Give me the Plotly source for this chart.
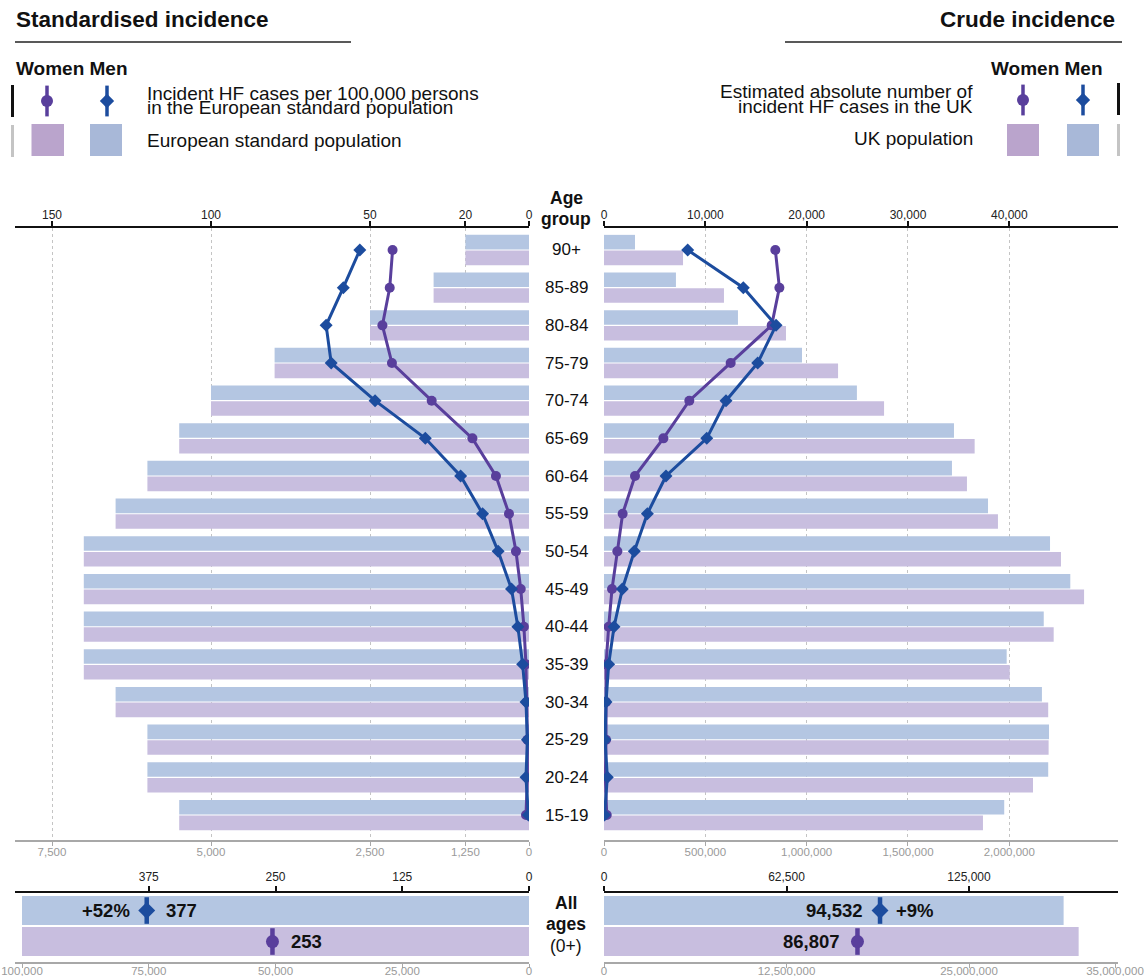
import plotly.graph_objects as go

W, H = 1145, 976

# ---------------- data ----------------
age_groups = ['15-19', '20-24', '25-29', '30-34', '35-39', '40-44', '45-49', '50-54',
              '55-59', '60-64', '65-69', '70-74', '75-79', '80-84', '85-89', '90+']

# European standard population (2013) per age group
esp_pop = [5500, 6000, 6000, 6500, 7000, 7000, 7000, 7000,
           6500, 6000, 5500, 5000, 4000, 2500, 1500, 1000]

# incident HF cases per 100,000 persons of the European standard population
std_men = [0.2, 0.95, 0.5, 0.95, 2.0, 3.5, 5.5, 9.7,
           14.6, 21.5, 32.6, 48.4, 62.2, 63.8, 58.4, 53.2]
std_women = [0.95, 0.5, 0.5, 0.7, 0.95, 1.6, 2.6, 4.1,
             6.3, 10.4, 17.8, 30.6, 43.1, 46.1, 43.8, 42.9]

# UK population per age group
uk_men = [1975000, 2192000, 2196000, 2161000, 1987000, 2170000, 2301000, 2201000,
          1895000, 1717000, 1727000, 1248000, 977000, 661000, 355000, 153000]
uk_women = [1870000, 2117000, 2194000, 2192000, 2002000, 2219000, 2369000, 2255000,
            1944000, 1791000, 1829000, 1382000, 1155000, 898000, 592000, 390000]

# estimated absolute number of incident HF cases in the UK
crude_men = [50, 330, 100, 200, 460, 990, 1810, 2990,
             4280, 6120, 10140, 12040, 15170, 16980, 13750, 8260]
crude_women = [270, 130, 200, 200, 200, 460, 790, 1320,
               1840, 3060, 5860, 8420, 12500, 16550, 17310, 16910]

# all ages (0+)
sex_rows = ['Women', 'Men']
esp_total = [100000, 100000]
std_total = [253, 377]
uk_total = [32510000, 31480000]
crude_total = [86807, 94532]
std_change = '+52%'
crude_change = '+9%'

# ---------------- styling ----------------
FONT = 'Liberation Sans, Arial, sans-serif'
BAR_MEN = '#b4c6e2'
BAR_WOMEN = '#c8bedf'
LEG_MEN = '#a8b8d8'
LEG_WOMEN = '#baa4cc'
LINE_MEN = '#1c4c9e'
LINE_WOMEN = '#593f9c'
GRAY = '#a8a8a8'


def px(x):
    return x / W


def py(y):
    return 1 - y / H


def fmt(v):
    return f'{v:,.0f}'


fig = go.Figure()

# ---- main panel bars ----
fig.add_bar(y=age_groups, x=esp_pop, orientation='h', xaxis='x', yaxis='y',
            marker=dict(color=BAR_WOMEN, line=dict(width=0)), offsetgroup='w', showlegend=False)
fig.add_bar(y=age_groups, x=esp_pop, orientation='h', xaxis='x', yaxis='y',
            marker=dict(color=BAR_MEN, line=dict(width=0)), offsetgroup='m', showlegend=False)
fig.add_bar(y=age_groups, x=uk_women, orientation='h', xaxis='x3', yaxis='y',
            marker=dict(color=BAR_WOMEN, line=dict(width=0)), offsetgroup='w', showlegend=False)
fig.add_bar(y=age_groups, x=uk_men, orientation='h', xaxis='x3', yaxis='y',
            marker=dict(color=BAR_MEN, line=dict(width=0)), offsetgroup='m', showlegend=False)

# ---- main panel incidence lines ----
fig.add_scatter(y=age_groups, x=std_women, xaxis='x2', yaxis='y', mode='lines+markers',
                line=dict(color=LINE_WOMEN, width=3), marker=dict(symbol='circle', size=10),
                showlegend=False)
fig.add_scatter(y=age_groups, x=std_men, xaxis='x2', yaxis='y', mode='lines+markers',
                line=dict(color=LINE_MEN, width=3), marker=dict(symbol='diamond', size=10),
                showlegend=False)
fig.add_scatter(y=age_groups, x=crude_women, xaxis='x4', yaxis='y', mode='lines+markers',
                line=dict(color=LINE_WOMEN, width=3), marker=dict(symbol='circle', size=10),
                showlegend=False)
fig.add_scatter(y=age_groups, x=crude_men, xaxis='x4', yaxis='y', mode='lines+markers',
                line=dict(color=LINE_MEN, width=3), marker=dict(symbol='diamond', size=10),
                showlegend=False)

# ---- all ages bars ----
for xa, vals in (('x5', esp_total), ('x7', uk_total)):
    for i, sex in enumerate(sex_rows):
        fig.add_bar(y=[sex], x=[vals[i]], orientation='h', xaxis=xa, yaxis='y2',
                    width=0.93, offsetgroup='all',
                    marker=dict(color=BAR_MEN if sex == 'Men' else BAR_WOMEN, line=dict(width=0)),
                    showlegend=False)

# ---- all ages markers ----
for xa, vals in (('x6', std_total), ('x8', crude_total)):
    for i, sex in enumerate(sex_rows):
        col = LINE_MEN if sex == 'Men' else LINE_WOMEN
        fig.add_scatter(y=[sex], x=[vals[i]], xaxis=xa, yaxis='y2', mode='markers',
                        marker=dict(symbol='line-ns', size=19, line=dict(color=col, width=4.5)),
                        showlegend=False)
        fig.add_scatter(y=[sex], x=[vals[i]], xaxis=xa, yaxis='y2', mode='markers',
                        marker=dict(symbol='diamond' if sex == 'Men' else 'circle',
                                    size=13, color=col),
                        showlegend=False)

# ---- legend glyphs (pixel helper axes) ----
leg_pts = [(47, 101, 'circle', LINE_WOMEN), (107, 101, 'diamond', LINE_MEN),
           (1023, 100, 'circle', LINE_WOMEN), (1083, 100, 'diamond', LINE_MEN)]
for x0, y0, sym, col in leg_pts:
    fig.add_scatter(x=[x0], y=[y0], xaxis='x9', yaxis='y3', mode='markers',
                    marker=dict(symbol='line-ns', size=22, line=dict(color=col, width=3.5)),
                    showlegend=False, hoverinfo='skip')
    fig.add_scatter(x=[x0], y=[y0], xaxis='x9', yaxis='y3', mode='markers',
                    marker=dict(symbol=sym, size=12 if sym == 'circle' else 11, color=col),
                    showlegend=False, hoverinfo='skip')

shapes = []


def rect(x0, y0, x1, y1, color):
    shapes.append(dict(type='rect', xref='paper', yref='paper', x0=px(x0), x1=px(x1),
                       y0=py(y1), y1=py(y0), fillcolor=color, line=dict(width=0)))


def hline(x0, x1, y, color='#222', width=1.5):
    shapes.append(dict(type='line', xref='paper', yref='paper', x0=px(x0), x1=px(x1),
                       y0=py(y), y1=py(y), line=dict(color=color, width=width)))


hline(15, 351, 42)
hline(785, 1122, 42)
rect(31.5, 124, 64, 156, LEG_WOMEN)
rect(90, 124, 122, 156, LEG_MEN)
rect(1007, 124, 1039, 156, LEG_WOMEN)
rect(1067, 124, 1099, 156, LEG_MEN)
rect(11, 85, 14, 117, '#111111')
rect(11, 125, 14, 157, '#c4c4c4')
rect(1117, 83, 1120, 115, '#111111')
rect(1117, 124, 1120, 156, '#c4c4c4')

annotations = []


def text(x, y, s, size=17, bold=False, anchor='center', color='#111'):
    annotations.append(dict(
        x=px(x), y=py(y), xref='paper', yref='paper',
        text=f'<b>{s}</b>' if bold else s, showarrow=False,
        xanchor=anchor, yanchor='middle',
        font=dict(family=FONT, size=size, color=color)))


text(14, 20, 'Standardised incidence', size=22.5, bold=True, anchor='left')
text(1117, 20, 'Crude incidence', size=22.5, bold=True, anchor='right')
text(14, 68, 'Women Men', size=19, bold=True, anchor='left')
text(1105, 68, 'Women Men', size=19, bold=True, anchor='right')
text(145, 93, 'Incident HF cases per 100,000 persons', size=19, anchor='left')
text(145, 108, 'in the European standard population', size=19, anchor='left')
text(145, 140, 'European standard population', size=19, anchor='left')
text(975, 91, 'Estimated absolute number of', size=19, anchor='right')
text(975, 106.5, 'incident HF cases in the UK', size=19, anchor='right')
text(975, 138, 'UK population', size=19, anchor='right')

text(566, 198, 'Age', size=17.5, bold=True)
text(566, 219, 'group', size=17.5, bold=True)
for ag in age_groups:
    annotations.append(dict(x=px(566), y=ag, xref='paper', yref='y', text=ag, showarrow=False,
                            xanchor='center', yanchor='middle',
                            font=dict(family=FONT, size=17, color='#111')))

text(566, 903, 'All', size=17.5, bold=True)
text(566, 924, 'ages', size=17.5, bold=True)
text(566, 946, '(0+)', size=17.5)

# value labels in the all ages row
for xa, vals, chg, side in (('x6', std_total, std_change, 'left'),
                            ('x8', crude_total, crude_change, 'right')):
    for i, sex in enumerate(sex_rows):
        lab = fmt(vals[i])
        annotations.append(dict(x=vals[i], y=sex, xref=xa, yref='y2', text=f'<b>{lab}</b>',
                                showarrow=False,
                                xanchor='left' if side == 'left' else 'right',
                                xshift=17 if side == 'left' else -15,
                                font=dict(family=FONT, size=18.5, color='#111')))
    men_i = sex_rows.index('Men')
    annotations.append(dict(x=vals[men_i], y='Men', xref=xa, yref='y2', text=f'<b>{chg}</b>',
                            showarrow=False, xanchor='right' if side == 'left' else 'left',
                            xshift=-15 if side == 'left' else 14,
                            font=dict(family=FONT, size=18.5, color='#111')))

# ---------------- axes ----------------
tick_font_dark = dict(family=FONT, size=12, color='#222')
tick_font_gray = dict(family=FONT, size=11.5, color='#9a9a9a')

L0, L1 = px(15), px(529)
R0, R1 = px(604), px(1118)

left_pop_max = (529 - 15) / (477 / 7500)
right_pop_max = (1118 - 604) / 405.3 * 2e6
left_all_max = (529 - 15) / 507 * 100000
right_all_max = (1118 - 604) / 511 * 35e6


def bottom_axis(domain, rng, vals, texts, anchor, standoff):
    return dict(domain=domain, range=rng, anchor=anchor, side='bottom', showline=True,
                linecolor=GRAY, linewidth=1.5, ticks='outside', tickcolor=GRAY, ticklen=4,
                tickwidth=1, tickvals=vals, ticktext=texts, tickfont=tick_font_gray,
                ticklabelstandoff=standoff,
                showgrid=False, zeroline=False, fixedrange=True, automargin=False)


def top_axis(over, rng, vals, texts, anchor, grid, standoff):
    return dict(overlaying=over, range=rng, anchor=anchor, side='top', showline=True,
                linecolor='#111', linewidth=1.8, ticks='outside', tickcolor='#111', ticklen=5,
                tickwidth=1.5, tickvals=vals, ticktext=texts, tickfont=tick_font_dark,
                ticklabelstandoff=standoff,
                showgrid=grid, gridcolor='#c4c4c4', griddash='dot', gridwidth=1,
                zeroline=False, fixedrange=True, automargin=False)


left_pop_ticks = [0, 1000, 2500, 5000, 7500]
left_pop_text = ['0', '1,250', '2,500', '5,000', '7,500']
left_std_ticks = [0, 20, 50, 100, 150]
right_pop_ticks = [0, 500000, 1000000, 1500000, 2000000]
right_crude_ticks = [0, 10000, 20000, 30000, 40000]
all_esp_ticks = [0, 25000, 50000, 75000, 100000]
all_std_ticks = [0, 125, 250, 375]
all_uk_ticks = [0, 12500000, 25000000, 35000000]
all_crude_ticks = [0, 62500, 125000]

layout_axes = dict(
    xaxis=bottom_axis([L0, L1], [left_pop_max, 0], left_pop_ticks, left_pop_text, 'y', -4),
    xaxis2=top_axis('x', [left_pop_max / 50, 0], left_std_ticks,
                    [str(v) for v in left_std_ticks], 'y', True, -3),
    xaxis3=bottom_axis([R0, R1], [0, right_pop_max], right_pop_ticks,
                       [fmt(v) for v in right_pop_ticks], 'y', -4),
    xaxis4=top_axis('x3', [0, right_pop_max / 50], right_crude_ticks,
                    [fmt(v) for v in right_crude_ticks], 'y', True, -3),
    xaxis5=bottom_axis([L0, L1], [left_all_max, 0], all_esp_ticks,
                       [fmt(v) for v in all_esp_ticks], 'y2', -7),
    xaxis6=top_axis('x5', [left_all_max / 200, 0], all_std_ticks,
                    [fmt(v) for v in all_std_ticks], 'y2', False, 0),
    xaxis7=bottom_axis([R0, R1], [0, right_all_max], all_uk_ticks,
                       [fmt(v) for v in all_uk_ticks], 'y2', -7),
    xaxis8=top_axis('x7', [0, right_all_max / 200], all_crude_ticks,
                    [fmt(v) for v in all_crude_ticks], 'y2', False, 0),
    xaxis9=dict(domain=[0, 1], range=[0, W], anchor='y3', visible=False, fixedrange=True),
    yaxis=dict(domain=[py(840), py(228)], range=[-0.663, 15.584], type='category',
               categoryorder='array', categoryarray=age_groups, anchor='x', visible=False,
               fixedrange=True),
    yaxis2=dict(domain=[py(962), py(893)], range=[-0.66, 1.565], type='category',
                categoryorder='array', categoryarray=sex_rows, anchor='x5', visible=False,
                fixedrange=True),
    yaxis3=dict(domain=[0, 1], range=[H, 0], anchor='x9', visible=False, fixedrange=True),
)

fig.update_layout(
    width=W, height=H, margin=dict(l=0, r=0, t=0, b=0, pad=0, autoexpand=False),
    paper_bgcolor='white', plot_bgcolor='rgba(0,0,0,0)',
    barmode='group', bargap=0.167, bargroupgap=0.07,
    font=dict(family=FONT, color='#111'),
    shapes=shapes, annotations=annotations, showlegend=False,
    **layout_axes,
)

fig.write_html('out.html', config={'displayModeBar': False})
